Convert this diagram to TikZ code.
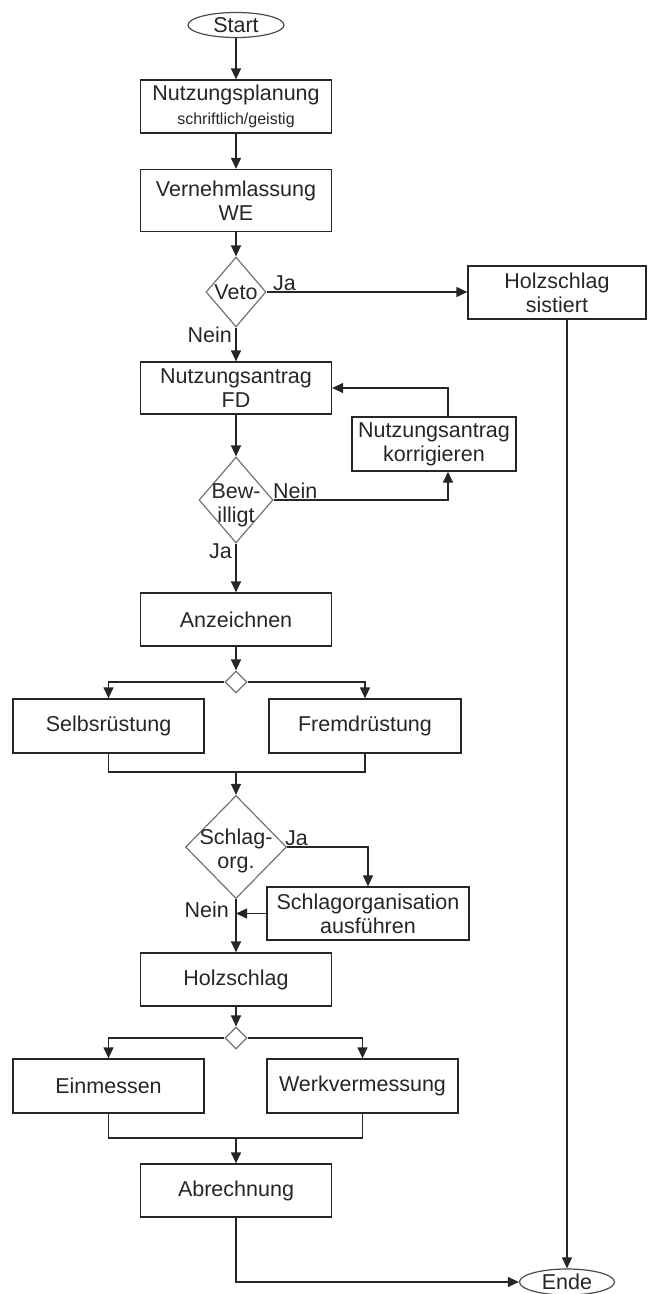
\documentclass[tikz,border=0pt]{standalone}
\usepackage{fontspec}
\setmainfont{Liberation Sans}
\usetikzlibrary{shapes.geometric,arrows.meta}
\begin{document}
\begin{tikzpicture}[x=1pt,y=-1pt,
  every node/.style={font=\fontsize{21.5}{24}\selectfont, text=black!85},
  box/.style={draw=black!85, line width=1.3pt, rectangle, inner sep=0pt, align=center},
  term/.style={draw=black!70, line width=1.2pt, ellipse, inner sep=0pt},
  dec/.style={draw=black!55, line width=1.2pt, diamond, inner sep=0pt},
  lbl/.style={inner sep=0pt},
  conn/.style={draw=black!85, line width=1.3pt},
  arr/.style={conn, -{Triangle[width=10pt,length=11pt]}}
]
\useasboundingbox (0,0) rectangle (648,1294);

% nodes
\node[term, minimum width=96pt, minimum height=25pt] (start) at (236,25) {Start};
\node[box, minimum width=191pt, minimum height=53pt] (npl) at (236,106.5) {Nutzungsplanung\\\fontsize{16}{18}\selectfont schriftlich/geistig};
\node[box, minimum width=191pt, minimum height=62pt] (vern) at (236,200.5) {Vernehmlassung\\WE};
\node[dec, minimum width=60pt, minimum height=70pt, label={[lbl]center:Veto}] (veto) at (236,292) {};
\node[box, minimum width=178pt, minimum height=53pt] (hs) at (557,292.5) {Holzschlag\\sistiert};
\node[box, minimum width=191pt, minimum height=52pt] (nat) at (236,388) {Nutzungsantrag\\FD};
\node[box, minimum width=164pt, minimum height=54pt] (korr) at (434,444) {Nutzungsantrag\\korrigieren};
\coordinate (kx) at (448,444);
\node[dec, minimum width=74pt, minimum height=86pt, label={[lbl,align=center,yshift=-5pt]center:{Bew-\\illigt}}] (bew) at (236,500) {};
\node[box, minimum width=191pt, minimum height=53pt] (anz) at (236,619.5) {Anzeichnen};
\node[dec, minimum width=22pt, minimum height=22pt] (d1) at (236,682) {};
\node[box, minimum width=191pt, minimum height=54pt] (selbs) at (108.5,726) {Selbsrüstung};
\node[box, minimum width=192pt, minimum height=54pt] (fremd) at (365,726) {Fremdrüstung};
\coordinate (j1) at (236,772);
\node[dec, minimum width=101pt, minimum height=103pt, label={[lbl,align=center,yshift=-4pt]center:{Schlag-\\org.}}] (sch) at (236,847) {};
\node[box, minimum width=202pt, minimum height=53pt] (sorg) at (368,913.5) {Schlagorganisation\\ausführen};
\node[box, minimum width=191pt, minimum height=53pt] (holz) at (236,979.5) {Holzschlag};
\node[dec, minimum width=22pt, minimum height=22pt] (d2) at (236,1038) {};
\node[box, minimum width=191pt, minimum height=54pt] (einm) at (108.5,1086) {Einmessen};
\node[box, minimum width=191pt, minimum height=54pt] (werk) at (362.5,1086) {Werkvermessung};
\coordinate (j2) at (236,1138);
\node[box, minimum width=191pt, minimum height=53pt] (abre) at (236,1190.5) {Abrechnung};
\node[term, minimum width=95pt, minimum height=26pt] (ende) at (567,1282) {Ende};

% branch labels
\node[lbl, anchor=base west] (ja1) at (273,290) {Ja};
\node[lbl, anchor=base east] (nein1) at (232,342) {Nein};
\node[lbl, anchor=base west] (nein2) at (273,498) {Nein};
\node[lbl, anchor=base east] (ja2) at (232,558) {Ja};
\node[lbl, anchor=base west] (ja3) at (285,845) {Ja};
\node[lbl, anchor=base east] (nein3) at (229,917) {Nein};

% connectors
\draw[arr] (start) -- (npl);
\draw[arr] (npl) -- (vern);
\draw[arr] (vern) -- (veto);
\draw[arr] (veto.east) -- (veto.east -| hs.west);
\draw[arr] (veto) -- (nat);
\draw[arr] (hs.south -| ende) -- (ende.north);
\draw[arr] (nat) -- (bew);
\draw[arr] (bew.east) -- (bew.east -| kx) -- (korr.south -| kx);
\draw[arr] (korr.north -| kx) -- (kx |- nat.east) -- (nat.east);
\draw[arr] (bew) -- (anz);
\draw[arr] (anz) -- (d1);
\draw[arr] (d1.west) -| (selbs.north);
\draw[arr] (d1.east) -| (fremd.north);
\draw[conn] (selbs.south) |- (j1) -| (fremd.south);
\draw[arr] (j1) -- (sch.north);
\draw[arr] (sch.east) -| (sorg.north);
\draw[arr] (sorg.west) -- (sorg.west -| sch.south);
\draw[arr] (sch) -- (holz);
\draw[arr] (holz) -- (d2);
\draw[arr] (d2.west) -| (einm.north);
\draw[arr] (d2.east) -| (werk.north);
\draw[conn] (einm.south) |- (j2) -| (werk.south);
\draw[arr] (j2) -- (abre);
\draw[arr] (abre.south) |- (ende.west);
\end{tikzpicture}
\end{document}
